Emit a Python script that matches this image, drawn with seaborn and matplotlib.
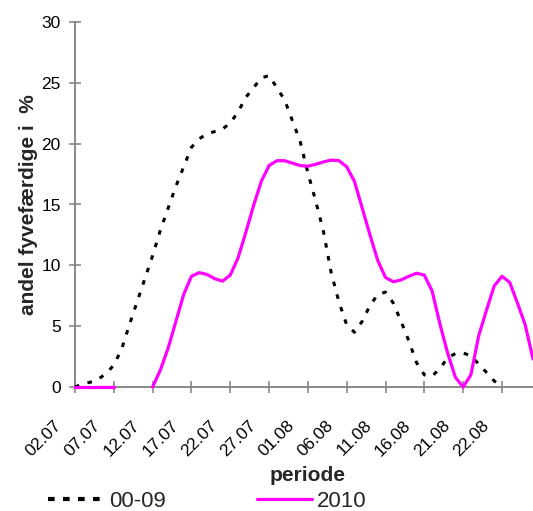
import numpy as np
import pandas as pd
import matplotlib
matplotlib.use("Agg")
import matplotlib.pyplot as plt
import matplotlib.transforms as mtrans
import seaborn as sns
from matplotlib.lines import Line2D

tick_labels = ["02.07", "07.07", "12.07", "17.07", "22.07", "27.07",
               "01.08", "06.08", "11.08", "16.08", "21.08", "22.08"]

series_0009 = [0.0, 0.25, 0.4, 0.65, 1.1, 1.8, 3.1, 5.1, 7.0, 8.9,
               10.8, 12.9, 14.7, 16.5, 18.1, 19.7, 20.4, 20.8, 21.0, 21.2,
               21.7, 22.6, 23.8, 24.6, 25.4, 25.6, 24.6, 23.6, 21.9, 20.2,
               17.6, 15.3, 12.8, 9.4, 7.0, 5.1, 4.5, 5.4, 6.7, 7.6,
               7.8, 6.9, 5.4, 3.8, 2.0, 1.0, 0.9, 1.5, 2.4, 2.75,
               2.8, 2.55, 1.9, 1.2, 0.5, 0.0, None, None, None, None]

series_2010 = [0.0, 0.0, 0.0, 0.0, 0.0, 0.0, None, None, None, None,
               0.0, 1.4, 3.2, 5.4, 7.6, 9.1, 9.4, 9.25, 8.9, 8.7,
               9.2, 10.6, 12.7, 14.9, 16.9, 18.2, 18.6, 18.6, 18.4, 18.2,
               18.15, 18.3, 18.5, 18.65, 18.6, 18.1, 16.9, 14.7, 12.5, 10.4,
               9.0, 8.65, 8.8, 9.1, 9.35, 9.2, 7.9, 5.2, 2.8, 0.8,
               0.0, 1.0, 4.2, 6.3, 8.3, 9.1, 8.6, 6.9, 5.1, 2.3]

sns.set_theme(style="white")
plt.rcParams["font.family"] = ["Liberation Sans", "DejaVu Sans"]

def to_frame(values):
    df = pd.DataFrame({"day": np.arange(len(values)), "value": pd.array(values, dtype="float")})
    df["segment"] = df["value"].isna().cumsum()
    return df.dropna()

df_a = to_frame(series_0009)
df_b = to_frame(series_2010)

fig = plt.figure(figsize=(5.33, 5.11), dpi=100)
ax = fig.add_axes([75 / 533, 124 / 511, 1 - 75 / 533, (387 - 22) / 511])

sns.lineplot(data=df_a, x="day", y="value", units="segment", estimator=None,
             color="black", lw=2.2, ax=ax)
for ln in ax.get_lines():
    ln.set_dashes((1.5, 2.8))
sns.lineplot(data=df_b, x="day", y="value", units="segment", estimator=None,
             color="#FF00FF", lw=2.3, ax=ax)
for ln in ax.get_lines():
    ln.set_zorder(3)
    ln.set_clip_on(False)

ax.set_xlim(0, 59)
ax.set_ylim(0, 30)
ax.set_yticks([0, 5, 10, 15, 20, 25, 30])
tick_pos = np.arange(0, 60, 5)
ax.set_xticks(tick_pos)
ax.set_xticklabels([])
ax.tick_params(axis="both", which="major", bottom=True, left=True,
               direction="inout", length=8.6, width=1.1,
               color="#808080", labelsize=12.5, labelcolor="black")
ax.tick_params(axis="y", pad=6)

offset = mtrans.ScaledTranslation(-0.21, -0.31, fig.dpi_scale_trans)
trans = ax.get_xaxis_transform() + offset
for pos, lab in zip(tick_pos, tick_labels):
    ax.text(pos, 0, lab, transform=trans, rotation=45, ha="right", va="top",
            rotation_mode="anchor", fontsize=12.5, color="black", clip_on=False)

for s in ["top", "right"]:
    ax.spines[s].set_visible(False)
for s in ["left", "bottom"]:
    ax.spines[s].set_color("#808080")
    ax.spines[s].set_linewidth(1.3)

ax.set_xlabel("periode", fontsize=15, fontweight="bold")
ax.set_ylabel("andel fyvefærdige i  %", fontsize=15, fontweight="bold")
ax.xaxis.set_label_coords(0.508, -0.216)
ax.yaxis.set_label_coords(-0.081, 0.5)

handles = [Line2D([], [], color="black", lw=3.0, dashes=(1.6, 2.0)),
           Line2D([], [], color="#FF00FF", lw=2.3)]
fig.legend(handles, ["00-09", "2010"], loc="center left",
           bbox_to_anchor=(48 / 533, 10 / 511), ncol=2, frameon=False,
           fontsize=16, handlelength=2.5, handletextpad=0.23,
           columnspacing=4.1, borderpad=0, borderaxespad=0)

fig.savefig("out.png", dpi=100)
